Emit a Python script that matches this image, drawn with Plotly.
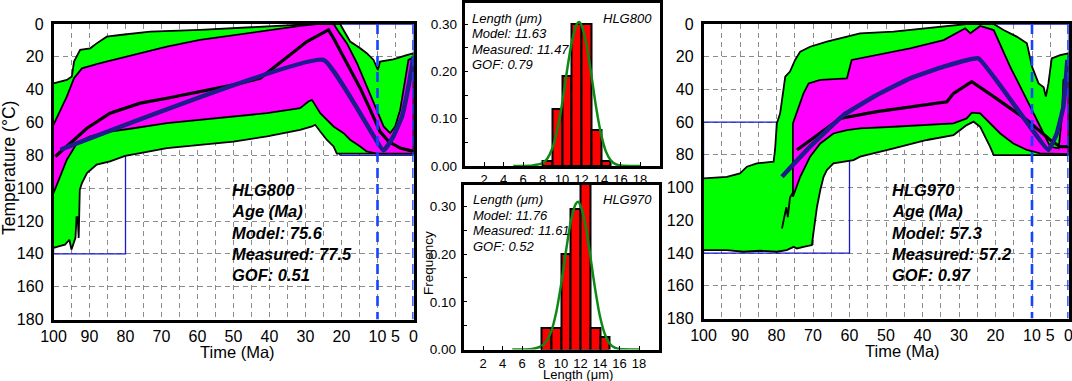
import plotly.graph_objects as go

W, H = 1072, 381
FONT = "Liberation Sans, Arial, sans-serif"

# ======================= DATA =======================
# ---- Left panel: HLG800 thermal history (time Ma, temperature °C) ----
l_green_top_t = [100, 96.3, 94.9, 94.3, 92.6, 89.8, 88.0, 85.2, 81.5, 77.8, 73.1, 59.3, 50, 40.7, 31.5, 28.0,
                 20.4, 19.4, 17.6, 14.8, 13.0, 11.1, 9.9, 9.3, 5.6, 1.9, 0]
l_green_top_T = [36.1, 34.1, 32.0, 22.9, 15.8, 14.8, 11.8, 7.7, 6.7, 5.7, 4.7, 3.6, 2.6, 1.6, 0.8, 0,
                 0, 3.6, 10.7, 14.8, 17.8, 21.9, 28.0, 22.9, 21.5, 18.9, 17.8]
l_green_bot_t = [0, 21.3, 22.2, 24.1, 25.9, 27.3, 28.2, 31.5, 40.7, 50, 59.3, 68.5, 75.9, 80.1, 84.3, 88.0,
                 90.7, 92.1, 92.7, 93.0, 93.3, 93.6, 93.9, 95.0, 95.6, 96.8, 98.6, 100]
l_green_bot_T = [79, 79, 74.6, 70.5, 65.5, 61.4, 62.4, 64.5, 68.5, 71.6, 73.6, 75.6, 78.7, 80.3, 83.7, 85.7,
                 90.8, 96.9, 101, 130.3, 117.6, 117.6, 130.3, 137.4, 131.4, 134.4, 135.4, 136.4]
l_mag_top_t = [100, 98.1, 96.3, 94.3, 92.1, 87.0, 77.8, 68.5, 59.3, 50, 40.7, 31.5, 26.9, 22.2, 20.8, 18.5,
               15.7, 13.0, 10.2, 8.3, 6.5, 5.1, 3.7, 2.3, 1.4, 0]
l_mag_top_T = [61.4, 52.3, 44.2, 33.0, 27.0, 23.9, 18.9, 13.8, 9.7, 6.7, 4.1, 1.2, 0, 0, 4.7, 11.8,
               23.9, 38.1, 53.3, 62.4, 66.5, 62.4, 52.3, 34.1, 21.9, 20.3]
l_mag_bot_t = [0, 10.2, 13.0, 14.8, 17.6, 19.4, 22.2, 25.9, 27.3, 28.2, 29.2, 31.5, 40.7, 50, 59.3, 68.5,
               77.8, 84.3, 89.8, 93.5, 96.3, 98.1, 100]
l_mag_bot_T = [79, 79, 77.6, 74.6, 70.5, 66.5, 62.4, 54.3, 49.3, 46.2, 47.2, 51.3, 54.3, 56.4, 58.4, 60.4,
               63.5, 65.5, 68.5, 72.6, 82.7, 92.8, 103]
l_best_t = [99.5, 96.3, 90.7, 84.3, 75.9, 68.5, 59.3, 50, 42.6, 36.1, 29.6, 23.6, 22.2, 18.5, 14.8, 12.0,
            9.3, 6.9, 3.7, 0]
l_best_T = [80.7, 74.6, 63.5, 54.3, 48.2, 45.2, 41.2, 37.1, 33.0, 21.9, 10.7, 3.6, 8.7, 23.9, 39.1, 52.3,
            65.5, 71.6, 75.6, 77.6]
l_mean_t = [98.1, 25.0, 8.3, 5.6, 3.2, 1.4, 0]
l_mean_T = [76.6, 21.9, 77.0, 68.5, 56.4, 38.1, 19.9]
# constraint boxes: (t_old, t_young, T_low, T_high)
l_boxes = [(100, 80, 80, 140), (20.5, 0, 0, 80)]

# ---- Right panel: HLG970 thermal history ----
r_green_top_t = [100, 93.6, 90.0, 88.1, 85.4, 80.8, 80.4, 79.9, 79.0, 77.6, 76.3, 74.9, 73.5, 70.8, 66.2,
                 60.7, 57.1, 47.9, 38.8, 29.7, 27.9, 20.5, 17.8, 14.2, 11.4, 10.0, 8.2, 6.8, 6.2, 5.5,
                 4.6, 2.3, 0]
r_green_top_T = [94.4, 93.4, 91.3, 87.2, 85.2, 84.2, 77.0, 60.7, 54.6, 32.2, 29.1, 22.0, 16.9, 13.9, 10.8,
                 7.7, 5.7, 4.7, 2.6, 0.6, 0, 0, 3.7, 7.7, 11.8, 26.1, 36.3, 38.7, 44.4, 36.3,
                 21.0, 19.0, 17.9]
r_green_bot_t = [0, 20.5, 21.5, 24.2, 26.0, 27.9, 31.5, 38.8, 47.9, 57.1, 58.9, 64.4, 66.2, 67.1, 68.0,
                 68.9, 69.9, 70.3, 72.6, 74.4, 75.3, 77.2, 79.9, 84.5, 89.0, 93.6, 100]
r_green_bot_T = [80.1, 80.1, 75.0, 62.8, 59.7, 61.8, 67.9, 70.9, 76.0, 81.1, 83.2, 85.2, 89.3, 93.4, 101.5,
                 111.7, 128.0, 135.1, 136.2, 137.2, 136.2, 138.2, 139.2, 138.6, 139.2, 138.2, 138.2]
r_mag_top_t = [75.5, 75.5, 72.6, 71.2, 68.0, 60.7, 59.4, 52.5, 43.4, 34.2, 28.3, 26.9, 24.2, 20.5, 16.0,
               12.3, 9.6, 6.8, 5.0, 2.7, 1.8, 1.4, 0]
r_mag_top_T = [105.6, 60.7, 42.4, 36.3, 34.2, 33.2, 22.0, 19.0, 14.9, 9.8, 2.6, 5.7, 1.2, 3.7, 26.1,
               42.4, 54.6, 66.9, 75.0, 76.0, 56.7, 34.2, 32.2]
r_mag_bot_t = [0, 7.8, 11.4, 15.1, 18.7, 21.5, 24.2, 26.5, 27.9, 31.5, 38.8, 47.9, 57.1, 60.7, 64.4, 68.0,
               70.8, 73.5, 75.5]
r_mag_bot_T = [79.5, 79.1, 77.0, 73.0, 66.9, 60.7, 54.6, 54.2, 57.7, 60.7, 61.8, 62.8, 63.8, 64.8, 66.9, 73.0,
               81.1, 93.4, 105.6]
r_spike_t = [78.5, 77.3, 76.9, 76.3, 75.5]
r_spike_T = [125.0, 112.0, 118.0, 106.0, 103.0]
r_best_t = [74.4, 62.6, 52.5, 33.3, 31.5, 26.5, 20.5, 11.4, 5.0, 2.3, 0]
r_best_T = [77.0, 57.7, 53.6, 47.5, 42.4, 35.3, 44.4, 58.7, 70.9, 75.0, 75.0]
r_mean_t = [78.5, 70.8, 61.6, 52.5, 43.4, 34.2, 24.7, 5.5, 3.2, 1.4, 0.3]
r_mean_T = [93.4, 75.0, 55.6, 43.4, 33.2, 26.1, 21.0, 77.0, 66.9, 50.5, 22.0]
r_boxes = [(100, 80, 60, 140), (80, 60, 80, 140), (20.5, 0, 0, 80)]

dashed_times = [10, 0]

# ---- axis ticks ----
time_tick_vals = [100, 95, 90, 85, 80, 75, 70, 65, 60, 55, 50, 45, 40, 35, 30, 25, 20, 15, 10, 5, 0]
time_tick_text = ["100", "", "90", "", "80", "", "70", "", "60", "", "50", "", "40", "", "30", "", "20", "",
                  "10", "5", "0"]
temp_tick_vals = [0, 20, 40, 60, 80, 100, 120, 140, 160, 180]

# ---- length histograms ----
len_bin_centers = [8.5, 9.5, 10.5, 11.5, 12.5, 13.5, 14.5]
hlg800_freq = [0.01, 0.12, 0.19, 0.30, 0.30, 0.077, 0.01]
hlg970_freq = [0.045, 0.045, 0.20, 0.295, 0.36, 0.045, 0.027]
curve_x = [5, 6, 7, 7.5, 8, 8.5, 9, 9.5, 10, 10.5, 11, 11.5, 11.75, 12, 12.5, 13, 13.5, 14, 14.5, 15, 15.5, 16, 18]
hlg800_curve = [0, 0, 0.001, 0.003, 0.006, 0.016, 0.037, 0.075, 0.13, 0.2, 0.262, 0.3, 0.305, 0.298, 0.258,
                0.194, 0.124, 0.068, 0.031, 0.012, 0.004, 0.001, 0]
hlg970_curve = [0, 0, 0.001, 0.003, 0.007, 0.017, 0.038, 0.077, 0.135, 0.205, 0.268, 0.305, 0.31, 0.302, 0.262,
                0.197, 0.127, 0.069, 0.032, 0.012, 0.004, 0.001, 0]
len_tick_vals = [2, 4, 6, 8, 10, 12, 14, 16, 18]
freq_tick_vals = [0, 0.1, 0.2, 0.3]
freq_tick_text = ["0.00", "0.10", "0.20", "0.30"]

# ---- texts ----
l_info = ["HLG800", "Age (Ma)", "Model: 75.6", "Measured: 77.5", "GOF: 0.51"]
r_info = ["HLG970", "Age (Ma)", "Model: 57.3", "Measured: 57.2", "GOF: 0.97"]
top_hist_info = ["Length (μm)", "Model: 11.63", "Measured: 11.47", "GOF: 0.79"]
bot_hist_info = ["Length (μm)", "Model: 11.76", "Measured: 11.61", "GOF: 0.52"]

# ======================= STYLE =======================
GREEN = "#00ff00"
MAGENTA = "#ff00ff"
NAVY = "#1c1c8c"
BOXBLUE = "#1a1acc"
DASHBLUE = "#1444ff"


def xd(a, b):
    return [a / W, b / W]


def yd(top, bot):
    return [(H - bot) / H, (H - top) / H]


fig = go.Figure()


def add_panel(xa, ya, boxes, gt, gT, gbt, gbT, mt, mT, mbt, mbT, bt, bT, mnt, mnT, extra=None):
    kw = dict(xaxis=xa, yaxis=ya, showlegend=False, hoverinfo="skip")
    for (t0, t1, T0, T1) in boxes:
        fig.add_trace(go.Scatter(x=[t0, t1, t1, t0, t0], y=[T1, T1, T0, T0, T1], mode="lines",
                                 line=dict(color=BOXBLUE, width=1.3), **kw))
    fig.add_trace(go.Scatter(x=gt + gbt, y=gT + gbT, mode="lines", fill="toself", fillcolor=GREEN,
                             line=dict(color="black", width=1.8), **kw))
    fig.add_trace(go.Scatter(x=mt + mbt, y=mT + mbT, mode="lines", fill="toself", fillcolor=MAGENTA,
                             line=dict(color="black", width=1.8), **kw))
    if extra is not None:
        fig.add_trace(go.Scatter(x=extra[0], y=extra[1], mode="lines",
                                 line=dict(color="black", width=1.8), **kw))
    fig.add_trace(go.Scatter(x=bt, y=bT, mode="lines", line=dict(color="black", width=3.2), **kw))
    fig.add_trace(go.Scatter(x=mnt, y=mnT, mode="lines", line=dict(color=NAVY, width=4.5, shape="spline",
                                                                  smoothing=0.3), **kw))
    for t in dashed_times:
        fig.add_trace(go.Scatter(x=[t, t], y=[0, 180], mode="lines",
                                 line=dict(color=DASHBLUE, width=2.6, dash="10px,6px"), **kw))


add_panel("x", "y", l_boxes, l_green_top_t, l_green_top_T, l_green_bot_t, l_green_bot_T,
          l_mag_top_t, l_mag_top_T, l_mag_bot_t, l_mag_bot_T, l_best_t, l_best_T, l_mean_t, l_mean_T)
add_panel("x4", "y4", r_boxes, r_green_top_t, r_green_top_T, r_green_bot_t, r_green_bot_T,
          r_mag_top_t, r_mag_top_T, r_mag_bot_t, r_mag_bot_T, r_best_t, r_best_T, r_mean_t, r_mean_T,
          extra=(r_spike_t, r_spike_T))

for xa, ya, freq, curve in [("x2", "y2", hlg800_freq, hlg800_curve), ("x3", "y3", hlg970_freq, hlg970_curve)]:
    fig.add_trace(go.Bar(x=len_bin_centers, y=freq, width=1.0, xaxis=xa, yaxis=ya, showlegend=False,
                         marker=dict(color="#ff0000", line=dict(color="black", width=2))))
    fig.add_trace(go.Scatter(x=curve_x, y=curve, mode="lines", xaxis=xa, yaxis=ya, showlegend=False,
                             line=dict(color="#0c8a16", width=2.5, shape="spline", smoothing=0.8)))

time_axis = dict(range=[100, 0], tickmode="array", tickvals=time_tick_vals, ticktext=time_tick_text,
                 tickangle=0, showgrid=True, gridcolor="#8c8c8c", griddash="5px,4px", gridwidth=1,
                 showline=True, linecolor="black", linewidth=2.5, mirror=True, ticks="",
                 zeroline=False, tickfont=dict(family=FONT, size=16, color="black"), ticklabelstandoff=1,
                 automargin=False, ticklabeloverflow="allow")
temp_axis = dict(range=[180, 0], tickmode="array", tickvals=temp_tick_vals,
                 showgrid=True, gridcolor="#8c8c8c", griddash="5px,4px", gridwidth=1,
                 showline=True, linecolor="black", linewidth=2.5, mirror=True, ticks="",
                 zeroline=False, tickfont=dict(family=FONT, size=16, color="black"), ticklabelstandoff=4,
                 automargin=False, ticklabeloverflow="allow")
len_axis = dict(range=[0, 20], tickmode="array", tickvals=len_tick_vals, tickangle=0,
                showgrid=False, showline=True, linecolor="black", linewidth=2.5, mirror=True,
                ticks="inside", ticklen=4, tickcolor="black", zeroline=False,
                tickfont=dict(family=FONT, size=13, color="black"), ticklabelstandoff=0,
                automargin=False)
freq_axis = dict(range=[0, 0.345], tickmode="array", tickvals=freq_tick_vals, ticktext=freq_tick_text,
                 showgrid=False, showline=True, linecolor="black", linewidth=2.5, mirror=True,
                 ticks="inside", ticklen=4, tickcolor="black", zeroline=False,
                 minor=dict(tickvals=[0.05, 0.15, 0.25], ticks="inside", ticklen=4, tickcolor="black"),
                 tickfont=dict(family=FONT, size=13.5, color="black"), ticklabelstandoff=2,
                 automargin=False)

fig.update_layout(
    width=W, height=H, margin=dict(l=0, r=0, t=0, b=0, autoexpand=False),
    paper_bgcolor="white", plot_bgcolor="white", bargap=0,
    font=dict(family=FONT, color="black"),
    xaxis=dict(time_axis, domain=xd(53.5, 413.5), anchor="y"),
    yaxis=dict(temp_axis, domain=yd(24, 319.5), anchor="x"),
    xaxis4=dict(time_axis, domain=xd(703.5, 1068.5), anchor="y4"),
    yaxis4=dict(temp_axis, domain=yd(24, 318.5), anchor="x4"),
    xaxis2=dict(len_axis, domain=xd(464.5, 659.5), anchor="y2"),
    yaxis2=dict(freq_axis, domain=yd(3, 166), anchor="x2"),
    xaxis3=dict(len_axis, domain=xd(463.5, 658.5), anchor="y3"),
    yaxis3=dict(freq_axis, domain=yd(185, 349.5), anchor="x3"),
)

ann = []


def px_ann(text, x, y, size, xanchor="center", yanchor="middle", bold=False, italic=False, angle=0):
    t = text
    if italic:
        t = "<i>" + t + "</i>"
    if bold:
        t = "<b>" + t + "</b>"
    ann.append(dict(text=t, x=x / W, y=(H - y) / H, xref="paper", yref="paper", showarrow=False,
                    xanchor=xanchor, yanchor=yanchor, textangle=angle,
                    font=dict(family=FONT, size=size, color="black")))


px_ann("Temperature (°C)", 9, 168, 17.5, angle=-90)
px_ann("Time (Ma)", 237, 352, 16.5)
px_ann("Time (Ma)", 902, 351, 16.5)
px_ann("Frequency", 428, 263, 13.5, angle=-90)
px_ann("Length (μm)", 578, 374, 13)

for i, line in enumerate(l_info):
    px_ann(line, 230, 190 + 21.25 * i, 16.5, xanchor="left", bold=True, italic=True)
for i, line in enumerate(r_info):
    px_ann(line, 890, 190 + 21.25 * i, 16.5, xanchor="left", bold=True, italic=True)
for i, line in enumerate(top_hist_info):
    px_ann(line, 470, 18 + 15.6 * i, 13, xanchor="left", italic=True)
px_ann("HLG800", 654, 18, 13, xanchor="right", italic=True)
for i, line in enumerate(bot_hist_info):
    px_ann(line, 470.5, 199.5 + 15.5 * i, 13, xanchor="left", italic=True)
px_ann("HLG970", 654, 199.5, 13, xanchor="right", italic=True)

fig.update_layout(annotations=ann)
fig.write_html("out.html", config={"displayModeBar": False},
               post_script="document.body.style.margin='0px';document.body.style.overflow='hidden';")
